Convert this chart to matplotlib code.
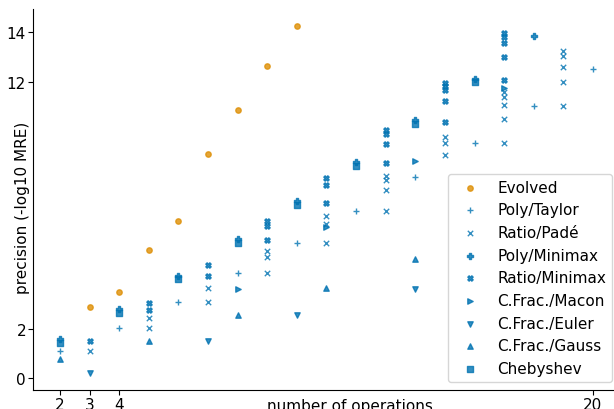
import matplotlib
matplotlib.use("Agg")
import matplotlib.pyplot as plt

# precision (-log10 MRE) against number of operations, one list pair per method
evolved_x = [3, 4, 5, 6, 7, 8, 9, 10]
evolved_y = [2.89, 3.50, 5.18, 6.37, 9.06, 10.84, 12.65, 14.24]

taylor_x = [2, 4, 6, 8, 10, 12, 14, 16, 18, 20]
taylor_y = [1.09, 2.04, 3.09, 4.25, 5.48, 6.76, 8.13, 9.53, 11.0, 12.5]

pade_x = [3, 5, 5, 7, 7, 9, 9, 9, 11, 11, 11, 13, 13, 13, 13,
          15, 15, 15, 17, 17, 17, 17, 17, 19, 19, 19, 19, 19]
pade_y = [1.08, 2.43, 2.04, 3.65, 3.09, 5.13, 4.89, 4.25, 6.57, 6.24, 5.47,
          8.19, 8.02, 7.60, 6.78, 9.78, 9.53, 9.03,
          11.57, 11.39, 11.05, 10.49, 9.53, 13.23, 13.05, 12.61, 11.99, 11.0]

pminimax_x = [2, 4, 6, 8, 10, 12, 14, 16, 18]
pminimax_y = [1.57, 2.79, 4.14, 5.63, 7.15, 8.73, 10.45, 12.12, 13.86]

rminimax_x = [3, 5, 5, 7, 7, 9, 9, 9, 11, 11, 11, 13, 13, 13, 13,
              15, 15, 15, 15, 15, 17, 17, 17, 17, 17]
rminimax_y = [1.51, 3.05, 2.75, 4.59, 4.12, 6.37, 6.17, 5.58, 8.10, 7.80, 7.10,
              10.06, 9.88, 9.48, 8.71, 11.95, 11.81, 11.68, 11.21, 10.37,
              13.96, 13.82, 13.56, 12.99, 12.08]

macon_x = [8, 11, 14, 17]
macon_y = [3.62, 6.10, 8.80, 11.75]

euler_x = [3, 7, 10, 14]
euler_y = [0.22, 1.50, 2.55, 3.60]

gauss_x = [2, 5, 8, 11, 14]
gauss_y = [0.77, 1.50, 2.54, 3.63, 4.82]

cheb_x = [2, 4, 6, 8, 10, 12, 14, 16]
cheb_y = [1.42, 2.64, 4.02, 5.47, 7.02, 8.60, 10.29, 11.98]

orange = '#de8f05'
blue = '#0173b2'

series = [
    ("Evolved", evolved_x, evolved_y, 'o', orange),
    ("Poly/Taylor", taylor_x, taylor_y, '+', blue),
    ("Ratio/Padé", pade_x, pade_y, 'x', blue),
    ("Poly/Minimax", pminimax_x, pminimax_y, 'P', blue),
    ("Ratio/Minimax", rminimax_x, rminimax_y, 'X', blue),
    ("C.Frac./Macon", macon_x, macon_y, '>', blue),
    ("C.Frac./Euler", euler_x, euler_y, 'v', blue),
    ("C.Frac./Gauss", gauss_x, gauss_y, '^', blue),
    ("Chebyshev", cheb_x, cheb_y, 's', blue),
]

plt.rcParams['font.size'] = 11

fig = plt.figure(figsize=(6.14, 4.10), dpi=100)
ax = fig.add_axes([33/614, 19/410, 581/614, 381/410])

for label, xs, ys, m, c in series:
    ax.scatter(xs, ys, marker=m, color=c, s=15, alpha=0.8, linewidths=1.0, label=label)

ax.set_xlim(1.088, 20.71)
ax.set_ylim(-0.486, 14.945)
ax.set_xticks([2, 3, 4, 20])
ax.set_yticks([0, 2, 12, 14])
ax.tick_params(axis='both', pad=1.5)
ax.spines['top'].set_visible(False)
ax.spines['right'].set_visible(False)

ax.set_xlabel("number of operations")
ax.xaxis.set_label_coords(0.546, -0.02)
ax.set_ylabel("precision (-log10 MRE)")
ax.yaxis.set_label_coords(-0.005, 0.48)

ax.legend(loc='lower right', bbox_to_anchor=(0.9966, 0.021), borderaxespad=0,
          labelspacing=0.5, fontsize=11)

fig.savefig("out.png", dpi=100)
